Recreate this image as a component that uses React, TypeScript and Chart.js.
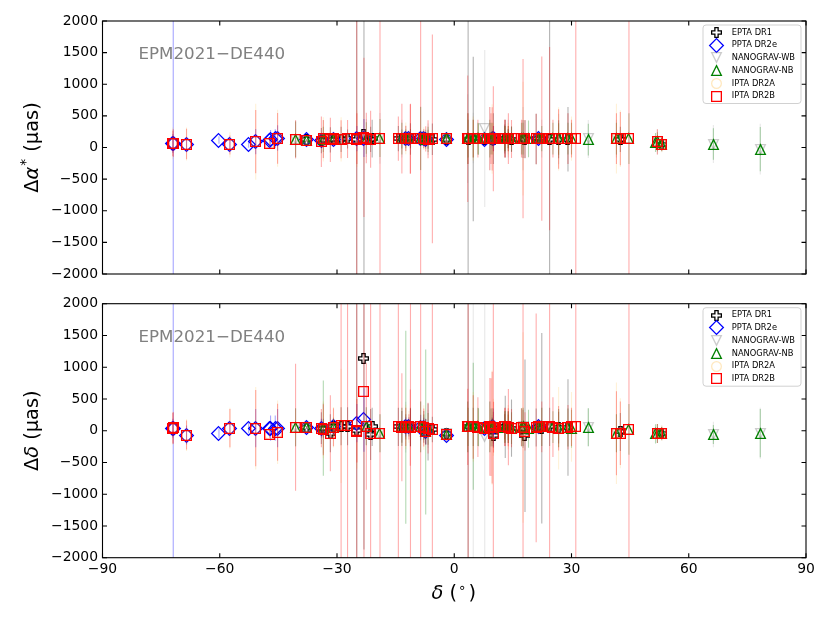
import React, { useEffect, useRef } from "react";
import { Chart, registerables } from "chart.js";
Chart.register(...registerables);

// ---------------- axis ticks ----------------
const xTickValues = [-90, -60, -30, 0, 30, 60, 90];
const yTickValues = [-2000, -1500, -1000, -500, 0, 500, 1000, 1500, 2000];

// ---------------- EPTA DR1 ----------------
const eptaDec = [4.86, -5.6, 42.5, -21.0, -2.0, 10.0, 18.1, -31.7, 53.1, 10.0, -7.3, -33.5, -30.9, 22.4, -12.4, 7.8, -24.95, -23.1, 3.55, -11.6, -28.95, -14.3, -21.4, -27.3, -11.2, 13.05, 9.7, -37.7, 12.9, 13.8, -11.2, -6.7, 21.6, 29.1, -13.4, 24.4, 17.6, -34.0, -7.8, 26.7, 14.65, 20.96];
const eptaRa = [135, 130, 130, 140, 130, 140, 130, 120, 50, 130, 120, 130, 130, 135, 140, 130, 130, 200, 130, 135, 130, 140, 130, 135, 140, 140, 130, 120, 135, 140, 135, 130, 140, 130, 135, 130, 135, 110, 140, 130, 130, 135];
const eptaRaErr = [1300, 250, 200, 300, 60, 400, 300, 200, 80, 100, 100, 100, 40, 60, 100, 10, 3000, 3000, 3000, 50, 200, 200, 200, 150, 150, 300, 60, 10, 230, 150, 250, 150, 30, 510, 150, 3000, 300, 200, 100, 300, 200, 400];
const eptaDe = [60, 20, -20, 60, -50, 50, -80, -40, -40, -70, -10, 40, 60, 40, 60, 40, 0, 1130, 60, 60, 70, 60, -60, 70, 60, 60, 40, 50, 60, 55, 50, -20, 70, 50, 60, 60, 30, 40, 60, 50, 40, 50];
const eptaDeErr = [300, 200, 300, 300, 80, 250, 1200, 300, 80, 200, 200, 150, 80, 1500, 200, 20, 3000, 3000, 3000, 150, 300, 300, 400, 300, 300, 490, 150, 20, 200, 250, 300, 450, 80, 760, 250, 300, 300, 250, 250, 250, 450, 300];

// ---------------- PPTA DR2e ----------------
const pptaDec = [-47.25, -2.0, -68.5, -71.9, 10.0, -7.3, -45.2, -60.2, -47.0, -45.8, -30.9, -72.0, -12.4, 7.8, -23.1, -50.8, -11.6, -24.9, -8.6, 9.7, -37.7, 21.6, -34.0, -57.4, -7.8, -52.6];
const pptaRa = [118, 130, 55, 70, 140, 130, 150, 118, 125, 140, 130, 65, 145, 125, 150, 92, 140, 140, 145, 135, 120, 140, 110, 40, 140, 55];
const pptaRaErr = [10, 50, 100, 5000, 200, 100, 200, 60, 150, 150, 50, 150, 100, 20, 300, 200, 50, 200, 100, 80, 10, 40, 100, 100, 80, 60];
const pptaDe = [40, -70, -68, 40, 50, -20, 40, -40, 40, 40, 60, 40, 60, 40, 170, 40, 60, 120, 50, 60, 50, 70, 40, 40, 55, 40];
const pptaDeErr = [10, 60, 150, 5000, 300, 200, 300, 80, 200, 200, 100, 150, 150, 40, 500, 300, 100, 300, 200, 150, 20, 60, 150, 100, 150, 80];

// ---------------- NANOGrav wideband ----------------
const wbDec = [-40.6, -37.7, -33.5, -30.9, -22.5, -19.0, -13.4, -12.4, -11.6, -8.6, -7.8, -6.7, -2.0, 3.45, 4.86, 7.8, 9.1, 9.7, 12.9, 13.8, 17.6, 21.6, 22.4, 26.7, 29.1, 34.3, 41.5, 51.98, 53.1, 66.3, 78.3];
const wbRa = [125, 110, 130, 130, 150, 145, 140, 140, 140, 140, 140, 130, 130, 140, 150, 300, 140, 135, 140, 140, 140, 140, 140, 135, 140, 135, 140, 90, 50, 55, -25];
const wbRaErr = [300, 20, 300, 80, 300, 400, 300, 200, 80, 500, 150, 250, 60, 700, 400, 1240, 500, 150, 300, 300, 500, 40, 300, 400, 400, 300, 300, 200, 120, 300, 400];
const wbDe = [50, 50, 40, 55, 70, -40, 60, 55, 60, 60, 55, 30, -50, 60, 70, -95, 60, 50, 55, 55, 60, 60, 60, 40, 50, 55, -40, -45, -40, -60, -40];
const wbDeErr = [300, 30, 400, 150, 300, 300, 300, 400, 100, 400, 200, 300, 100, 400, 3000, 3000, 400, 200, 300, 250, 300, 80, 300, 300, 300, 300, 300, 150, 120, 200, 400];

// ---------------- NANOGrav narrowband ----------------
const nbDec = [-40.6, -37.7, -33.5, -30.9, -22.5, -19.0, -13.4, -12.4, -11.6, -8.6, -7.8, -7.3, -6.7, -2.0, 3.45, 3.55, 4.86, 6.05, 6.2, 7.8, 9.1, 9.4, 9.7, 9.75, 12.9, 13.05, 13.8, 13.85, 14.65, 17.2, 17.6, 19.0, 21.6, 22.4, 25.25, 26.7, 29.1, 30.0, 34.3, 41.5, 44.7, 51.5, 51.98, 53.1, 66.3, 78.3];
const nbRa = [130, 108, 130, 130, 150, 150, 140, 140, 140, 145, 140, 130, 130, 135, 140, 140, 140, 140, 135, 135, 140, 140, 140, 135, 140, 140, 140, 140, 135, 140, 140, 135, 140, 140, 140, 135, 140, 140, 125, 140, 140, 80, 90, 50, 55, -25];
const nbRaErr = [280, 15, 200, 60, 250, 300, 250, 150, 60, 500, 100, 150, 200, 50, 400, 300, 300, 250, 250, 20, 300, 250, 250, 100, 200, 200, 150, 200, 200, 250, 250, 290, 30, 200, 250, 250, 250, 250, 250, 250, 400, 150, 150, 100, 250, 350];
const nbDe = [55, 50, 40, 55, 70, -40, 60, 55, 60, 60, 55, -20, 30, -55, 60, 60, 70, 60, 55, 45, 60, 50, 55, 50, 55, 60, 55, 55, 40, 55, 60, 30, 60, 60, 55, 40, 50, 30, 55, -40, 20, -50, -45, -40, -60, -40];
const nbDeErr = [300, 20, 750, 150, 300, 300, 300, 1520, 100, 400, 200, 1300, 250, 80, 400, 300, 1000, 300, 300, 30, 400, 300, 300, 150, 250, 250, 200, 250, 250, 300, 300, 300, 60, 300, 250, 300, 300, 300, 300, 300, 400, 150, 150, 100, 150, 380];

// ---------------- IPTA DR2A ----------------
const dr2aDec = [-72.0, -68.5, -57.4, -50.8, -47.25, -45.2, -37.7, -33.5, -30.9, -28.95, -24.9, -12.4, -11.6, -7.8, -2.0, 4.86, 7.8, 9.7, 10.0, 13.8, 17.6, 21.6, 26.7, 30.0, 41.5, 42.5, 53.1];
const dr2aRa = [66, 55, 40, 92, 70, 145, 108, 130, 130, 130, 140, 145, 140, 140, 135, 140, 135, 135, 140, 140, 140, 140, 135, 140, 140, 140, 45];
const dr2aRaErr = [250, 260, 200, 600, 60, 450, 25, 350, 120, 350, 450, 250, 120, 180, 70, 350, 25, 550, 250, 250, 900, 60, 500, 350, 550, 450, 120];
const dr2aDe = [40, -68, 40, 40, -52, -25, 50, 15, 55, 75, 0, 60, 60, 50, -60, 60, 40, 50, 55, 55, 50, 60, 40, 60, -40, -40, -40];
const dr2aDeErr = [260, 250, 320, 650, 70, 500, 25, 450, 320, 900, 600, 350, 250, 350, 120, 550, 50, 900, 450, 350, 1500, 120, 650, 550, 800, 550, 120];

// ---------------- IPTA DR2B ----------------
const dr2bDec = [-72.0, -71.9, -68.5, -57.4, -50.8, -47.25, -45.2, -40.6, -37.7, -34.0, -33.5, -31.7, -30.9, -28.95, -27.3, -24.95, -24.9, -23.1, -22.5, -21.4, -19.0, -14.3, -13.4, -12.4, -11.6, -11.2, -11.25, -8.6, -7.8, -7.3, -6.7, -5.6, -2.0, 3.45, 3.55, 4.86, 6.05, 7.8, 9.1, 9.4, 9.7, 10.0, 10.05, 12.9, 13.05, 13.8, 13.85, 14.65, 17.2, 17.6, 18.1, 20.96, 21.6, 22.4, 24.4, 25.25, 26.7, 29.1, 30.0, 31.1, 41.5, 42.5, 44.7, 51.98, 53.1];
const dr2bRa = [66, 70, 55, 40, 92, 70, 145, 130, 108, 92, 135, 120, 135, 130, 135, 125, 140, 160, 150, 130, 145, 140, 140, 145, 140, 140, 135, 145, 140, 135, 130, 135, 135, 140, 140, 140, 140, 135, 140, 140, 135, 140, 140, 140, 140, 140, 140, 135, 140, 140, 135, 135, 140, 140, 140, 140, 135, 140, 140, 145, 140, 140, 140, 90, 45];
const dr2bRaErr = [200, 220, 240, 150, 500, 50, 400, 300, 20, 400, 300, 350, 100, 300, 300, 3000, 400, 1260, 400, 450, 3000, 350, 550, 200, 100, 550, 550, 3000, 150, 200, 300, 1650, 60, 1000, 400, 300, 300, 20, 500, 400, 500, 830, 200, 300, 300, 200, 400, 300, 300, 1260, 300, 400, 50, 1300, 1450, 300, 470, 400, 300, 3000, 400, 420, 3000, 200, 100];
const dr2bDe = [40, 45, -68, 40, 40, -52, -25, 55, 50, 40, 15, -40, 55, 75, 75, -15, 0, 620, 70, -50, -40, 60, 55, 60, 60, 55, 50, 60, 50, -20, 40, 25, -60, 60, 60, 60, 55, 40, 60, 55, 50, -45, 55, 60, 60, 55, 55, 40, 55, 50, -10, 45, 60, 60, 60, 55, 40, 55, 60, 70, -40, -40, 20, -45, -40];
const dr2bDeErr = [240, 250, 230, 300, 600, 60, 450, 1000, 20, 300, 400, 600, 300, 3000, 3000, 3000, 500, 3000, 1000, 3000, 3000, 3000, 850, 300, 200, 3000, 600, 3000, 300, 200, 400, 3000, 100, 600, 3000, 500, 470, 40, 770, 770, 880, 3000, 400, 300, 300, 300, 600, 300, 300, 3000, 300, 1800, 100, 400, 3000, 470, 350, 350, 300, 3000, 660, 500, 3000, 150, 100];

// ---------------- series labels ----------------
const seriesLabels = ["EPTA DR1", "PPTA DR2e", "NANOGRAV-WB", "NANOGRAV-NB", "IPTA DR2A", "IPTA DR2B"];

const FONT = "'DejaVu Sans', 'Liberation Sans', sans-serif";

type Series = {
  label: string;
  dec: number[];
  ra: number[];
  raErr: number[];
  de: number[];
  deErr: number[];
  marker: HTMLCanvasElement;
  errColor: string;
  order: number;
};

function makeMarker(kind: string, stroke: string): HTMLCanvasElement {
  const S = 19;
  const c = document.createElement("canvas");
  c.width = S;
  c.height = S;
  const ctx = c.getContext("2d")!;
  const m = S / 2;
  const h = 4.85;
  ctx.lineWidth = 1.3;
  ctx.strokeStyle = stroke;
  ctx.lineJoin = "miter";
  ctx.beginPath();
  if (kind === "square") {
    ctx.rect(m - h, m - h, 2 * h, 2 * h);
  } else if (kind === "diamond") {
    const d = h * Math.SQRT2;
    ctx.moveTo(m, m - d);
    ctx.lineTo(m + d, m);
    ctx.lineTo(m, m + d);
    ctx.lineTo(m - d, m);
    ctx.closePath();
  } else if (kind === "circle") {
    ctx.arc(m, m, h, 0, Math.PI * 2);
  } else if (kind === "triUp") {
    ctx.moveTo(m, m - h);
    ctx.lineTo(m + h, m + h);
    ctx.lineTo(m - h, m + h);
    ctx.closePath();
  } else if (kind === "triDown") {
    ctx.moveTo(m, m + h);
    ctx.lineTo(m + h, m - h);
    ctx.lineTo(m - h, m - h);
    ctx.closePath();
  } else if (kind === "plus") {
    const a = h / 3;
    const pts = [
      [-a, -h], [a, -h], [a, -a], [h, -a], [h, a], [a, a],
      [a, h], [-a, h], [-a, a], [-h, a], [-h, -a], [-a, -a],
    ];
    pts.forEach((p, i) => (i === 0 ? ctx.moveTo(m + p[0], m + p[1]) : ctx.lineTo(m + p[0], m + p[1])));
    ctx.closePath();
  }
  ctx.stroke();
  return c;
}

function buildSeries(): Series[] {
  return [
    { label: seriesLabels[0], dec: eptaDec, ra: eptaRa, raErr: eptaRaErr, de: eptaDe, deErr: eptaDeErr, marker: makeMarker("plus", "#000000"), errColor: "rgba(0,0,0,0.3)", order: 6 },
    { label: seriesLabels[1], dec: pptaDec, ra: pptaRa, raErr: pptaRaErr, de: pptaDe, deErr: pptaDeErr, marker: makeMarker("diamond", "#0000ff"), errColor: "rgba(0,0,255,0.35)", order: 5 },
    { label: seriesLabels[2], dec: wbDec, ra: wbRa, raErr: wbRaErr, de: wbDe, deErr: wbDeErr, marker: makeMarker("triDown", "rgba(128,128,128,0.4)"), errColor: "rgba(128,128,128,0.18)", order: 4 },
    { label: seriesLabels[3], dec: nbDec, ra: nbRa, raErr: nbRaErr, de: nbDe, deErr: nbDeErr, marker: makeMarker("triUp", "#008000"), errColor: "rgba(0,128,0,0.3)", order: 3 },
    { label: seriesLabels[4], dec: dr2aDec, ra: dr2aRa, raErr: dr2aRaErr, de: dr2aDe, deErr: dr2aDeErr, marker: makeMarker("circle", "rgba(255,165,0,0.25)"), errColor: "rgba(255,165,0,0.16)", order: 2 },
    { label: seriesLabels[5], dec: dr2bDec, ra: dr2bRa, raErr: dr2bRaErr, de: dr2bDe, deErr: dr2bDeErr, marker: makeMarker("square", "#ff0000"), errColor: "rgba(255,0,0,0.32)", order: 1 },
  ];
}

const fmt = (v: number | string) => {
  const n = Number(v);
  return n < 0 ? "\u2212" + Math.abs(n) : String(n);
};

type Part = { t: string; font: string; dy?: number; gap?: number };

function drawRich(ctx: CanvasRenderingContext2D, parts: Part[], cx: number, baseY: number) {
  const widths = parts.map((p) => {
    ctx.font = p.font;
    return ctx.measureText(p.t).width + (p.gap || 0);
  });
  const total = widths.reduce((a, b) => a + b, 0);
  let x = cx - total / 2;
  ctx.textAlign = "left";
  ctx.textBaseline = "alphabetic";
  parts.forEach((p, i) => {
    ctx.font = p.font;
    ctx.fillText(p.t, x + (p.gap ? p.gap / 2 : 0), baseY + (p.dy || 0));
    x += widths[i];
  });
}

function makeConfig(series: Series[], isTop: boolean): any {
  const key = isTop ? "ra" : "de";
  const errKey = isTop ? "raErr" : "deErr";
  const datasets = series.map((s) => ({
    label: s.label,
    data: s.dec.map((d, i) => ({ x: d, y: (s as any)[key][i] })),
    pointStyle: s.marker,
    pointRadius: 5,
    pointHoverRadius: 5,
    borderWidth: 0,
    showLine: false,
    order: s.order,
  }));

  const panelPlugin = {
    id: "panel",
    beforeDatasetsDraw(chart: any) {
      chart.ctx.imageSmoothingEnabled = false;
    },
    beforeDatasetDraw(chart: any, args: any) {
      const s = series[args.index];
      const ctx = chart.ctx as CanvasRenderingContext2D;
      const xs = chart.scales.x;
      const ys = chart.scales.y;
      const { left, right, top, bottom } = chart.chartArea;
      const vals = (s as any)[key] as number[];
      const errs = (s as any)[errKey] as number[];
      ctx.save();
      ctx.beginPath();
      ctx.rect(left, top, right - left, bottom - top);
      ctx.clip();
      ctx.strokeStyle = s.errColor;
      ctx.lineWidth = 1.1;
      s.dec.forEach((d, i) => {
        const x = xs.getPixelForValue(d);
        const y1 = ys.getPixelForValue(vals[i] - errs[i]);
        const y2 = ys.getPixelForValue(vals[i] + errs[i]);
        ctx.beginPath();
        ctx.moveTo(x, y1);
        ctx.lineTo(x, y2);
        ctx.stroke();
      });
      ctx.restore();
    },
    afterDatasetsDraw(chart: any) {
      const ctx = chart.ctx as CanvasRenderingContext2D;
      ctx.imageSmoothingEnabled = true;
      const xs = chart.scales.x;
      const ys = chart.scales.y;
      const { left, right, top, bottom } = chart.chartArea;
      ctx.save();
      // frame
      ctx.strokeStyle = "#000";
      ctx.lineWidth = 1.1;
      ctx.strokeRect(left, top, right - left, bottom - top);
      const tl = 4.5;
      ctx.beginPath();
      xTickValues.forEach((v) => {
        const px = xs.getPixelForValue(v);
        ctx.moveTo(px, bottom);
        ctx.lineTo(px, bottom - tl);
        ctx.moveTo(px, top);
        ctx.lineTo(px, top + tl);
      });
      yTickValues.forEach((v) => {
        const py = ys.getPixelForValue(v);
        ctx.moveTo(left, py);
        ctx.lineTo(left + tl, py);
        ctx.moveTo(right, py);
        ctx.lineTo(right - tl, py);
      });
      ctx.stroke();

      // annotation
      ctx.fillStyle = "#808080";
      ctx.font = `16.7px ${FONT}`;
      ctx.textAlign = "left";
      ctx.textBaseline = "alphabetic";
      ctx.fillText("EPM2021\u2212DE440", left + 36, top + 38.3);

      // legend
      const bw = 98;
      const bh = 78.5;
      const bx = right - 5 - bw;
      const by = top + 4;
      const r = 3;
      ctx.beginPath();
      ctx.moveTo(bx + r, by);
      ctx.lineTo(bx + bw - r, by);
      ctx.quadraticCurveTo(bx + bw, by, bx + bw, by + r);
      ctx.lineTo(bx + bw, by + bh - r);
      ctx.quadraticCurveTo(bx + bw, by + bh, bx + bw - r, by + bh);
      ctx.lineTo(bx + r, by + bh);
      ctx.quadraticCurveTo(bx, by + bh, bx, by + bh - r);
      ctx.lineTo(bx, by + r);
      ctx.quadraticCurveTo(bx, by, bx + r, by);
      ctx.closePath();
      ctx.fillStyle = "rgba(255,255,255,0.8)";
      ctx.fill();
      ctx.strokeStyle = "rgba(204,204,204,0.9)";
      ctx.lineWidth = 1;
      ctx.stroke();
      ctx.font = `8.3px ${FONT}`;
      ctx.fillStyle = "#000";
      ctx.textBaseline = "middle";
      series.forEach((s, i) => {
        const cy = by + 7.4 + i * 12.75;
        const m = s.marker;
        ctx.drawImage(m, Math.round(bx + 13 - m.width / 2), Math.round(cy - m.height / 2));
        ctx.fillText(s.label, bx + 28.7, cy);
      });
      ctx.restore();
    },
    afterDraw(chart: any) {
      const ctx = chart.ctx as CanvasRenderingContext2D;
      const { top, bottom, left, right } = chart.chartArea;
      ctx.save();
      ctx.fillStyle = "#000";
      const big = `19.4px ${FONT}`;
      const bigIt = `italic 19.4px ${FONT}`;
      const small = `13.6px ${FONT}`;
      ctx.translate(31, (top + bottom) / 2);
      ctx.rotate(-Math.PI / 2);
      const parts: Part[] = isTop
        ? [
            { t: "\u0394", font: big },
            { t: "\u03b1", font: bigIt },
            { t: "*", font: small, dy: -8, gap: 2 },
            { t: " (\u03bcas)", font: big },
          ]
        : [
            { t: "\u0394", font: big },
            { t: "\u03b4", font: bigIt },
            { t: " (\u03bcas)", font: big },
          ];
      drawRich(ctx, parts, 0, 6.5);
      ctx.restore();
      if (!isTop) {
        ctx.save();
        ctx.fillStyle = "#000";
        drawRich(
          ctx,
          [
            { t: "\u03b4", font: bigIt },
            { t: " (", font: big },
            { t: "\u2218", font: small, dy: -7, gap: 2 },
            { t: ")", font: big, gap: 2 },
          ],
          (left + right) / 2,
          bottom + 41
        );
        ctx.restore();
      }
    },
  };

  return {
    type: "scatter",
    data: { datasets },
    options: {
      responsive: false,
      maintainAspectRatio: false,
      animation: false,
      events: [],
      layout: { padding: { top: isTop ? 21 : 13.7, right: 24, left: 0, bottom: 0 } },
      plugins: { legend: { display: false }, tooltip: { enabled: false }, title: { display: false } },
      scales: {
        x: {
          type: "linear",
          position: "bottom",
          min: -90,
          max: 90,
          grid: { display: false, drawTicks: false },
          border: { display: false },
          afterBuildTicks: (s: any) => {
            s.ticks = xTickValues.map((v) => ({ value: v }));
          },
          ticks: {
            display: !isTop,
            padding: 3,
            maxRotation: 0,
            autoSkip: false,
            color: "#000",
            font: { family: FONT, size: 13.9 },
            callback: fmt,
          },
          afterFit: (s: any) => {
            s.height = isTop ? 16 : 65.3;
          },
        },
        y: {
          type: "linear",
          position: "left",
          min: -2000,
          max: 2000,
          grid: { display: false, drawTicks: false },
          border: { display: false },
          afterBuildTicks: (s: any) => {
            s.ticks = yTickValues.map((v) => ({ value: v }));
          },
          ticks: {
            padding: 4.5,
            autoSkip: false,
            color: "#000",
            font: { family: FONT, size: 13.9 },
            callback: fmt,
          },
          afterFit: (s: any) => {
            s.width = 102.5;
          },
        },
      },
    },
    plugins: [panelPlugin],
  };
}

export default function App() {
  const topRef = useRef<HTMLCanvasElement>(null);
  const botRef = useRef<HTMLCanvasElement>(null);
  useEffect(() => {
    const series = buildSeries();
    const c1 = new Chart(topRef.current!, makeConfig(series, true));
    const c2 = new Chart(botRef.current!, makeConfig(series, false));
    return () => {
      c1.destroy();
      c2.destroy();
    };
  }, []);
  return (
    <div style={{ position: "absolute", left: 0, top: 0, width: 830, height: 623, background: "#fff" }}>
      <canvas ref={topRef} width={830} height={290} style={{ position: "absolute", left: 0, top: 0 }} />
      <canvas ref={botRef} width={830} height={333} style={{ position: "absolute", left: 0, top: 290 }} />
    </div>
  );
}
